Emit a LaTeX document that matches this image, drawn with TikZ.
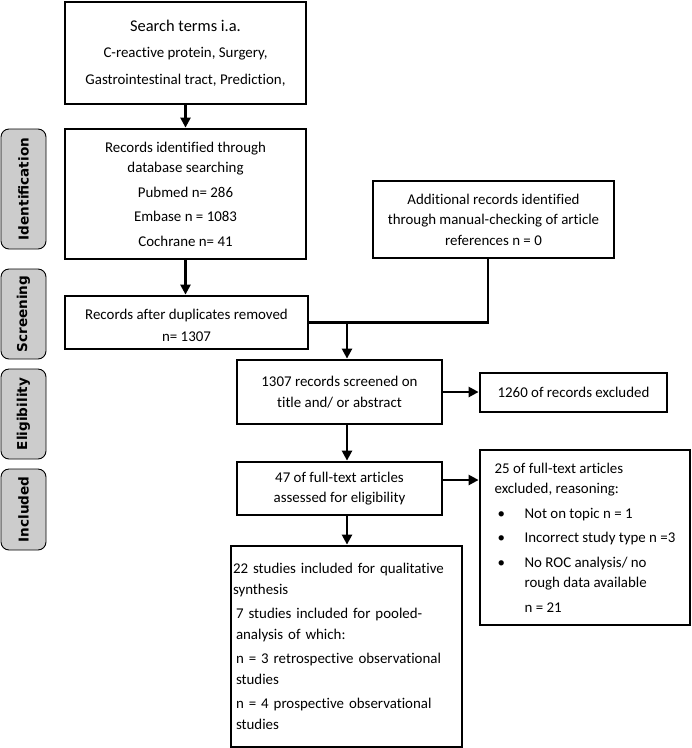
\documentclass[tikz,border=0pt]{standalone}
\usepackage{fontspec}
\setmainfont{Carlito}[Ligatures=NoCommon]
\newfontfamily\phasefont{DejaVu Sans}
\usetikzlibrary{arrows.meta}
\newcommand\bul{\makebox[30pt][l]{\hspace{3pt}\textbullet}}

\begin{document}
\begin{tikzpicture}[x=1pt, y=-1pt,
  box/.style={draw, line width=2.8pt, align=center, inner sep=2pt, font=\fontsize{14.9}{20.5}\selectfont},
  phase/.style={draw, line width=0.9pt, fill=gray!40, rounded corners=8pt, rotate=90, minimum height=45pt, inner sep=0pt, font=\phasefont\bfseries\fontsize{13.6}{16}\selectfont},
  arr/.style={line width=2.4pt, -{Triangle[length=10pt,width=10pt]}},
  link/.style={line width=2.4pt}]
  \useasboundingbox (0,0) rectangle (692,748);
  \node[box, minimum width=241pt, minimum height=102pt] (search) at (185.5,53) {{\fontsize{16.4}{20.5}\selectfont Search terms i.a.}\\[6pt] C-reactive protein, Surgery,\\[6pt] Gastrointestinal tract, Prediction,};
  \node[box, minimum width=241pt, minimum height=130pt] (ident) at (185.5,194) {Records identified through\\ database searching\\[4pt] Pubmed n= 286\\[4pt] Embase n = 1083\\[4pt] Cochrane n= 41};
  \node[box, minimum width=241pt, minimum height=77pt] (addl) at (493.5,219.5) {Additional records identified\\ through manual-checking of article\\ references n = 0};
  \node[box, minimum width=243pt, minimum height=53pt] (dupl) at (186.5,322.5) {\rule{0pt}{16pt}Records after duplicates removed\\[2pt] n= 1307};
  \node[box, minimum width=205pt, minimum height=64pt] (screen) at (339.5,392) {1307 records screened on\\ title and/ or abstract};
  \node[box, minimum width=187pt, minimum height=39pt] (excl) at (573.5,392.5) {1260 of records excluded};
  \node[box, minimum width=205pt, minimum height=53pt] (full) at (339.5,488.5) {47 of full-text articles\\ assessed for eligibility};
  \node[box, minimum width=210pt, minimum height=175pt, align=left] (fullexcl) at (585,537.5) {25 of full-text articles\\ excluded, reasoning:\\[4pt] \bul Not on topic n = 1\\[4pt] \bul Incorrect study type n =3\\[4pt] \bul No ROC analysis/ no\\ \hspace*{30pt}rough data available\\[4pt] \hspace*{30pt}n = 21};
  \node[box, minimum width=231pt, minimum height=201pt, text width=227pt, align=left] (incl) at (346.5,646.5) {22 studies included for qualitative\\ synthesis\\[4pt] \hspace*{3pt}7 studies included for pooled-\\ \hspace*{3pt}analysis of which:\\[4pt] \hspace*{3pt}n = 3 retrospective observational\\ \hspace*{3pt}studies\\[4pt] \hspace*{3pt}n = 4 prospective observational\\ \hspace*{3pt}studies};
  \node[phase, minimum width=120pt] (phId) at (23.5,189) {Identification};
  \node[phase, minimum width=90pt] (phSc) at (23.5,314) {Screening};
  \node[phase, minimum width=90pt] (phEl) at (23.5,414) {Eligibility};
  \node[phase, minimum width=81pt] (phIn) at (23.5,509.5) {Included};
  \coordinate (drop) at ([xshift=-5.5pt]addl.south);
  \coordinate (elbow) at (drop |- dupl.east);
  \coordinate (join) at (347,322.5);
  \coordinate (fout) at ([yshift=8.5pt]full.east);
  \draw[arr] (search) -- (ident);
  \draw[arr] (ident.south) -- (ident.south |- dupl.north);
  \draw[link] (drop) -- (elbow) -- (dupl.east);
  \draw[arr] (join) -- (join |- screen.north);
  \draw[arr] (screen.east) -- (screen.east -| excl.west);
  \draw[arr] (join |- screen.south) -- (join |- full.north);
  \draw[arr] (fout) -- (fout -| fullexcl.west);
  \draw[arr] (join |- full.south) -- (join |- incl.north);
\end{tikzpicture}
\end{document}
